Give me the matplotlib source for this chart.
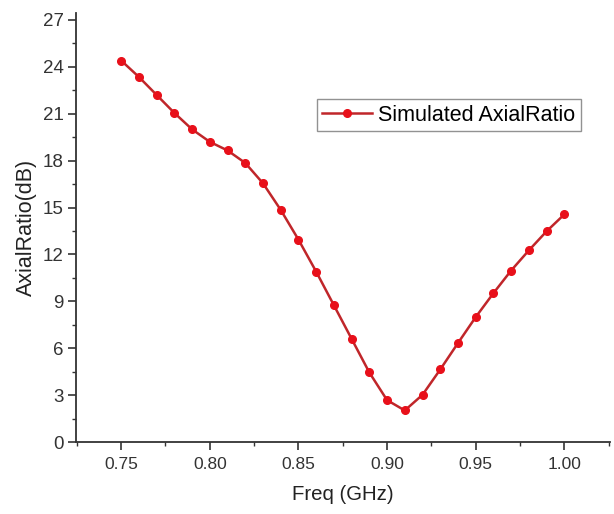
import matplotlib
matplotlib.use("Agg")
import matplotlib.pyplot as plt
from matplotlib.ticker import MultipleLocator

plt.rcParams['font.family'] = ['Liberation Sans', 'DejaVu Sans']

freq = [0.75, 0.76, 0.77, 0.78, 0.79, 0.80, 0.81, 0.82, 0.83, 0.84, 0.85,
        0.86, 0.87, 0.88, 0.89, 0.90, 0.91, 0.92, 0.93, 0.94, 0.95, 0.96,
        0.97, 0.98, 0.99, 1.00]
axial_ratio = [24.4, 23.35, 22.2, 21.05, 20.0, 19.2, 18.65, 17.85, 16.55, 14.85, 12.95,
               10.9, 8.75, 6.6, 4.45, 2.68, 2.02, 3.02, 4.64, 6.33, 7.99, 9.52,
               10.97, 12.26, 13.48, 14.56]
x_ticks = [0.75, 0.80, 0.85, 0.90, 0.95, 1.00]
y_ticks = [0, 3, 6, 9, 12, 15, 18, 21, 24, 27]

fig = plt.figure(figsize=(6.14, 5.14), dpi=100)
ax = fig.add_axes([0.124, 0.14, 0.869, 0.835])
ax.plot(freq, axial_ratio, color='#c0262a', lw=1.8, marker='o', markersize=5.5,
        markerfacecolor='#e8101a', markeredgecolor='#e8101a',
        label='Simulated AxialRatio')
ax.set_xlim(0.7246, 1.0256)
ax.set_ylim(0, 27.45)
ax.set_xticks(x_ticks)
ax.set_xticklabels([f"{v:.2f}" for v in x_ticks])
ax.set_yticks(y_ticks)
ax.xaxis.set_minor_locator(MultipleLocator(0.025))
ax.yaxis.set_minor_locator(MultipleLocator(1.5))
for s in ['top', 'right']:
    ax.spines[s].set_visible(False)
for s in ['left', 'bottom']:
    ax.spines[s].set_color('#333333')
    ax.spines[s].set_linewidth(1.3)
ax.tick_params(which='major', direction='out', length=5.5, width=1.2, colors='#333333',
               labelsize=12.5, labelcolor='#333333')
ax.tick_params(axis='x', which='major', pad=5.5)
ax.tick_params(axis='y', which='major', labelsize=13.5)
ax.tick_params(which='minor', direction='out', length=3, width=1.0, colors='#333333')
ax.set_xlabel('Freq (GHz)', fontsize=14.7, color='#222222', labelpad=9)
ax.set_ylabel('AxialRatio(dB)', fontsize=15.5, color='#222222', labelpad=4)
leg = ax.legend(loc='upper left', fontsize=15.5,
                frameon=True, fancybox=False, handlelength=2.3, borderpad=0.25,
                handletextpad=0.3, borderaxespad=0)
leg.set_bbox_to_anchor((316.7 / 614, 1 - 99.3 / 514), transform=fig.transFigure)
leg.get_frame().set_edgecolor('#777777')
leg.get_frame().set_linewidth(1.0)
fig.savefig('out.png', dpi=100)
